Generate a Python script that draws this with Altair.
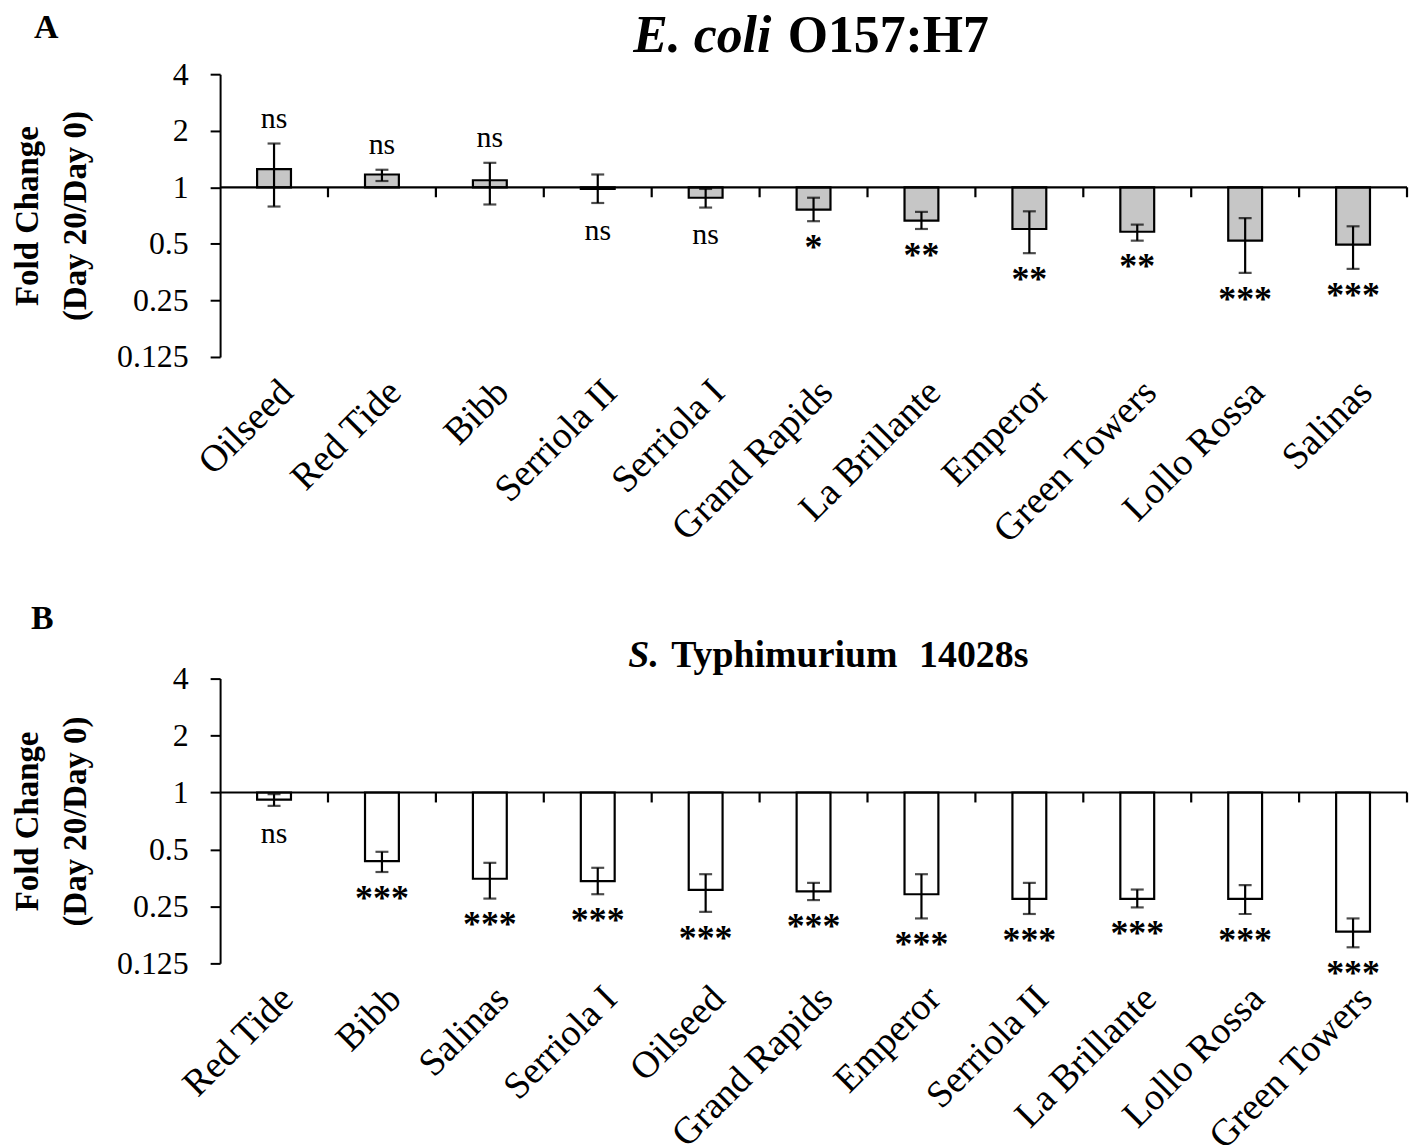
import altair as alt
import pandas as pd

FONT = "Liberation Serif"

# ---------------- Panel A : E. coli O157:H7 ----------------
cats_a = ["Oilseed", "Red Tide", "Bibb", "Serriola II", "Serriola I", "Grand Rapids",
          "La Brillante", "Emperor", "Green Towers", "Lollo Rossa", "Salinas"]
fold_a = [1.25, 1.17, 1.09, 0.98, 0.88, 0.76, 0.665, 0.60, 0.58, 0.52, 0.495]
low_a = [0.79, 1.08, 0.81, 0.825, 0.78, 0.66, 0.60, 0.446, 0.52, 0.35, 0.368]
high_a = [1.71, 1.24, 1.35, 1.17, 0.98, 0.88, 0.74, 0.745, 0.633, 0.686, 0.62]
sig_a = ["ns", "ns", "ns", "ns", "ns", "*", "**", "**", "**", "***", "***"]

# ---------------- Panel B : S. Typhimurium 14028s ----------------
cats_b = ["Red Tide", "Bibb", "Salinas", "Serriola I", "Oilseed", "Grand Rapids",
          "Emperor", "Serriola II", "La Brillante", "Lollo Rossa", "Green Towers"]
fold_b = [0.918, 0.434, 0.35, 0.34, 0.306, 0.30, 0.29, 0.274, 0.274, 0.274, 0.184]
low_b = [0.85, 0.38, 0.275, 0.29, 0.234, 0.27, 0.216, 0.228, 0.247, 0.228, 0.152]
high_b = [0.98, 0.486, 0.425, 0.40, 0.37, 0.333, 0.37, 0.333, 0.307, 0.324, 0.216]
sig_b = ["ns", "***", "***", "***", "***", "***", "***", "***", "***", "***", "***"]

y_ticks = [0.125, 0.25, 0.5, 1, 2, 4]


def text_item(txt, x, y, size, weight="bold", style="normal", align="left"):
    return alt.Chart(pd.DataFrame({"t": [txt]})).mark_text(
        font=FONT, fontSize=size, fontWeight=weight, fontStyle=style,
        align=align, baseline="alphabetic", color="black"
    ).encode(x=alt.value(x), y=alt.value(y), text="t:N")


def make_panel(cats, fold, low, high, sig, fill, titles, height):
    df = pd.DataFrame({"cat": cats, "fold": fold, "low": low, "high": high, "sig": sig})
    df["above"] = df["fold"] > 1
    df["anchor"] = df["high"].where(df["above"], df["low"])

    xaxis = alt.Axis(title=None, domain=False, ticks=False, labelAngle=-45,
                     labelFont=FONT, labelFontSize=38, labelColor="black",
                     labelPadding=16, labelLimit=500)
    xscale = alt.Scale(paddingInner=0, paddingOuter=0)
    xenc = alt.X("cat:N", sort=cats, scale=xscale, axis=xaxis)
    yscale = alt.Scale(type="log", base=2, domain=[0.125, 4])
    yaxis = alt.Axis(values=y_ticks, format="~g", grid=False,
                     title=["Fold Change", "(Day 20/Day 0)"],
                     titleFont=FONT, titleFontSize=33, titleFontWeight="bold",
                     titleLineHeight=48, titlePadding=24, titleColor="black",
                     labelFont=FONT, labelFontSize=32, labelColor="black", labelPadding=22,
                     domainColor="black", domainWidth=2, tickColor="black",
                     tickWidth=2, tickSize=10)

    def yenc(field):
        return alt.Y(f"{field}:Q", scale=yscale, axis=yaxis)

    base = alt.Chart(df)
    bars = base.mark_bar(size=34, fill=fill, stroke="black", strokeWidth=2.2).encode(
        x=xenc, y=yenc("fold"), y2=alt.datum(1))
    err = base.mark_rule(strokeWidth=2.2, color="black").encode(
        x=xenc, y=yenc("low"), y2="high:Q")
    cap_lo = base.mark_tick(orient="horizontal", size=13, thickness=2.2, color="black").encode(
        x=xenc, y=yenc("low"))
    cap_hi = base.mark_tick(orient="horizontal", size=13, thickness=2.2, color="black").encode(
        x=xenc, y=yenc("high"))
    one_line = alt.Chart(pd.DataFrame({"one": [1]})).mark_rule(strokeWidth=2.2, color="black").encode(
        y=yenc("one"))
    bticks = base.mark_rule(strokeWidth=2.2, color="black", y2Offset=10).encode(
        x=alt.X("cat:N", sort=cats, bandPosition=1, axis=xaxis, scale=xscale),
        y=alt.datum(1), y2=alt.datum(1))
    lab_above = base.transform_filter("datum.above").mark_text(
        font=FONT, fontSize=30, baseline="alphabetic", dy=-16, color="black").encode(
        x=xenc, y=yenc("anchor"), text="sig:N")
    lab_ns_below = base.transform_filter("!datum.above && datum.sig == 'ns'").mark_text(
        font=FONT, fontSize=30, baseline="alphabetic", dy=37, color="black").encode(
        x=xenc, y=yenc("anchor"), text="sig:N")
    lab_stars = base.transform_filter("datum.sig != 'ns'").mark_text(
        font=FONT, fontSize=36, fontWeight="bold", baseline="alphabetic", dy=38, color="black").encode(
        x=xenc, y=yenc("anchor"), text="sig:N")

    layers = [bars, err, cap_lo, cap_hi, one_line, bticks, lab_above, lab_ns_below, lab_stars]
    layers += [text_item(*t) for t in titles]
    return alt.layer(*layers).properties(width=1192, height=height)


titles_a = [
    ("A", -187, -36, 34),
    ("E. coli", 415, -22, 52, "bold", "italic"),
    ("O157:H7", 570, -22, 52),
]
titles_b = [
    ("B", -190, -50, 34),
    ("S.", 410, -12, 38, "bold", "italic"),
    ("Typhimurium", 453, -12, 38),
    ("14028s", 702, -12, 38),
]

panel_a = make_panel(cats_a, fold_a, low_a, high_a, sig_a, "#c6c6c6", titles_a, 284)
panel_b = make_panel(cats_b, fold_b, low_b, high_b, sig_b, "white", titles_b, 286)

chart = alt.vconcat(panel_a, panel_b, spacing=323, bounds="flush").properties(
    padding={"left": 4, "top": 0, "right": 0, "bottom": 0}
).configure_view(stroke=None)

chart.save("out.html", embed_options={"renderer": "svg", "actions": False})
